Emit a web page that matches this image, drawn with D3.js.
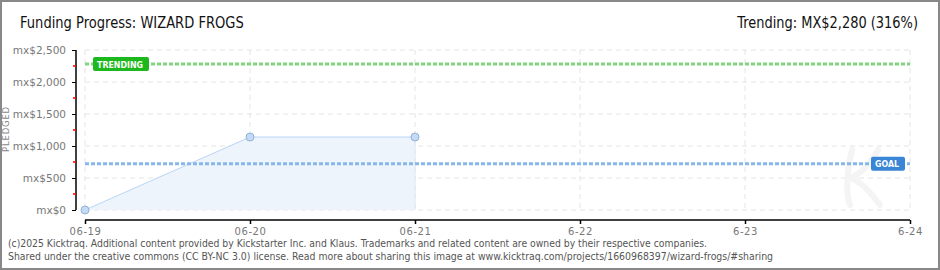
<!DOCTYPE html>
<html lang="en">
	<head>
		<meta charset="utf-8">
		<title>Funding Progress: WIZARD FROGS</title>
		<script src="https://d3js.org/d3.v7.min.js"></script>
		<style>
			body { margin: 0; background: #fff; }
		</style>
	</head>
	<body>
		<script type="text/javascript">

			// Data
			var dayLabels = ["06-19", "06-20", "06-21", "6-22", "6-23", "6-24"];
			var pledgeDays = ["06-19", "06-20", "06-21"];
			var pledgeValues = [0, 1140, 1140];
			var yTicks = [0, 500, 1000, 1500, 2000, 2500];
			var yTickLabels = ["mx$0", "mx$500", "mx$1,000", "mx$1,500", "mx$2,000", "mx$2,500"];
			var goalValue = 721;
			var trendingValue = 2280;

			//Width and height
			var w = 940;
			var h = 270;

			var svg = d3.select("body")
						.append("svg")
						.attr("width", w)
						.attr("height", h);

			var sans = "'DejaVu Sans', Verdana, sans-serif";

			// Frame
			svg.append("rect")
				.attr("x", 1).attr("y", 1)
				.attr("width", w - 2).attr("height", h - 2)
				.attr("fill", "#fff")
				.attr("stroke", "#888")
				.attr("stroke-width", 2);

			//Scales
			var x = d3.scalePoint().domain(dayLabels).range([85, 910]);
			var y = d3.scaleLinear().domain([0, 2500]).range([210, 50]);

			// Grid
			var grid = svg.append("g");
			grid.selectAll(".hg")
				.data(yTicks)
				.enter()
				.append("line")
				.attr("x1", 85).attr("x2", 910)
				.attr("y1", function(d) { return y(d); })
				.attr("y2", function(d) { return y(d); })
				.attr("stroke", "#e4e4e4")
				.attr("stroke-dasharray", "5,4");
			grid.selectAll(".vg")
				.data(dayLabels)
				.enter()
				.append("line")
				.attr("x1", function(d) { return x(d); })
				.attr("x2", function(d) { return x(d); })
				.attr("y1", 50).attr("y2", 210)
				.attr("stroke", "#e4e4e4")
				.attr("stroke-dasharray", "5,4");

			// Watermark (faint K)
			svg.append("path")
				.attr("d", "M852,150 C846,175 846,195 850,205 M878,150 C868,168 858,175 850,178 C862,182 870,192 880,205")
				.attr("fill", "none")
				.attr("stroke", "#f4f4f4")
				.attr("stroke-width", 6)
				.attr("stroke-linecap", "round");

			// Area
			var pts = pledgeDays.map(function(d, i) { return { day: d, value: pledgeValues[i] }; });

			svg.append("path")
				.datum(pts)
				.attr("d", d3.area()
					.x(function(d) { return x(d.day); })
					.y0(y(0))
					.y1(function(d) { return y(d.value); }))
				.attr("fill", "#edf4fc");

			svg.append("path")
				.datum(pts)
				.attr("d", d3.line()
					.x(function(d) { return x(d.day); })
					.y(function(d) { return y(d.value); }))
				.attr("fill", "none")
				.attr("stroke", "#b9d5f5")
				.attr("stroke-width", 1);

			svg.append("line")
				.attr("x1", x(pledgeDays[pledgeDays.length - 1]))
				.attr("x2", x(pledgeDays[pledgeDays.length - 1]))
				.attr("y1", y(pledgeValues[pledgeValues.length - 1]))
				.attr("y2", y(0))
				.attr("stroke", "#dde8f5");

			// Trending and goal lines
			svg.append("line")
				.attr("x1", 85).attr("x2", 910)
				.attr("y1", y(trendingValue)).attr("y2", y(trendingValue))
				.attr("stroke", "#7fd67f")
				.attr("stroke-width", 3)
				.attr("stroke-dasharray", "4,2");

			svg.append("line")
				.attr("x1", 85).attr("x2", 910)
				.attr("y1", y(goalValue)).attr("y2", y(goalValue))
				.attr("stroke", "#86b6ea")
				.attr("stroke-width", 3)
				.attr("stroke-dasharray", "4,2");

			// Points
			svg.selectAll(".pt")
				.data(pts)
				.enter()
				.append("circle")
				.attr("cx", function(d) { return x(d.day); })
				.attr("cy", function(d) { return y(d.value); })
				.attr("r", 4)
				.attr("fill", "#c3dbf7")
				.attr("stroke", "#93b3d6")
				.attr("stroke-width", 1);

			// Labels on lines
			var tg = svg.append("g").attr("transform", "translate(93," + (y(trendingValue) - 7) + ")");
			tg.append("rect").attr("width", 56).attr("height", 14).attr("rx", 2).attr("fill", "#1db81d");
			tg.append("text").attr("x", 4).attr("y", 10.5)
				.attr("font-family", sans).attr("font-size", 9).attr("font-weight", "bold")
				.attr("textLength", 46).attr("lengthAdjust", "spacingAndGlyphs")
				.attr("fill", "#fff").text("TRENDING");

			var gg = svg.append("g").attr("transform", "translate(871," + (y(goalValue) - 7) + ")");
			gg.append("rect").attr("width", 34).attr("height", 14).attr("rx", 2).attr("fill", "#3a86d6");
			gg.append("text").attr("x", 4).attr("y", 10.5)
				.attr("font-family", sans).attr("font-size", 9).attr("font-weight", "bold")
				.attr("textLength", 24).attr("lengthAdjust", "spacingAndGlyphs")
				.attr("fill", "#fff").text("GOAL");

			// Y axis
			var yAxis = svg.append("g")
				.attr("transform", "translate(76,0)")
				.call(d3.axisLeft(y).tickValues(yTicks).tickSize(4).tickPadding(6)
					.tickFormat(function(d, i) { return yTickLabels[i]; }));
			yAxis.select(".domain").attr("stroke", "#000").attr("stroke-width", 1.5).attr("d", "M0,50V210");
			yAxis.selectAll("text").attr("font-family", sans).attr("font-size", 10.5)
				.attr("fill", "#777");

			svg.selectAll(".minor")
				.data(yTicks.slice(0, -1))
				.enter()
				.append("line")
				.attr("x1", 73).attr("x2", 76)
				.attr("y1", function(d) { return y(d + 250); })
				.attr("y2", function(d) { return y(d + 250); })
				.attr("stroke", "#e00")
				.attr("stroke-width", 1.5);

			// X axis
			var xAxis = svg.append("g")
				.attr("transform", "translate(0,220)")
				.call(d3.axisBottom(x).tickSize(4).tickSizeOuter(0).tickPadding(4));
			xAxis.select(".domain").attr("stroke", "#000").attr("stroke-width", 1.5).attr("d", "M85,0H910");
			xAxis.selectAll("line").attr("stroke", "#000").attr("stroke-width", 1.5);
			xAxis.selectAll("text").attr("font-family", sans).attr("font-size", 10)
				.attr("letter-spacing", 0.6).attr("fill", "#777");

			// Pledged label
			svg.append("text")
				.attr("transform", "translate(9,129) rotate(-90)")
				.attr("text-anchor", "middle")
				.attr("font-family", sans).attr("font-size", 8.5)
				.attr("letter-spacing", 0.8)
				.attr("fill", "#888")
				.text("PLEDGED");

			// Titles, squeezed horizontally to look condensed
			function squeezed(txt, x0, anchor, width) {
				var t = svg.append("text")
					.attr("text-anchor", anchor)
					.attr("font-family", sans).attr("font-size", 15)
					.attr("fill", "#111")
					.text(txt);
				var natural = t.node().getComputedTextLength();
				t.attr("transform", "translate(" + x0 + ",28) scale(" + (width / natural) + ",1)");
			}
			squeezed("Funding Progress: WIZARD FROGS", 20, "start", 224);
			squeezed("Trending:  MX$2,280 (316%)", 918, "end", 181);

			// Footer
			svg.append("text")
				.attr("x", 8).attr("y", 247)
				.attr("font-family", sans).attr("font-size", 10)
				.attr("textLength", 699).attr("lengthAdjust", "spacingAndGlyphs")
				.attr("fill", "#555")
				.text("(c)2025 Kicktraq. Additional content provided by Kickstarter Inc. and Klaus. Trademarks and related content are owned by their respective companies.");
			svg.append("text")
				.attr("x", 8).attr("y", 260)
				.attr("font-family", sans).attr("font-size", 10)
				.attr("textLength", 765).attr("lengthAdjust", "spacingAndGlyphs")
				.attr("fill", "#555")
				.text("Shared under the creative commons (CC BY-NC 3.0) license. Read more about sharing this image at www.kicktraq.com/projects/1660968397/wizard-frogs/#sharing");

		</script>
	</body>
</html>
